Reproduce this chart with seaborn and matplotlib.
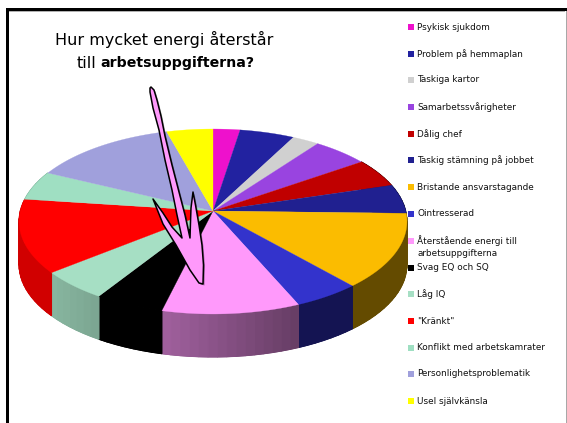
import numpy as np
import matplotlib
matplotlib.use("Agg")
import matplotlib.pyplot as plt
from matplotlib.patches import Polygon, Rectangle
import seaborn as sns

categories = ["Psykisk sjukdom", "Problem på hemmaplan", "Taskiga kartor", "Samarbetssvårigheter",
              "Dålig chef", "Taskig stämning på jobbet", "Bristande ansvarstagande", "Ointresserad",
              "Återstående energi till\narbetsuppgifterna", "Svag EQ och SQ", "Låg IQ", "\"Kränkt\"",
              "Konflikt med arbetskamrater", "Personlighetsproblematik", "Usel självkänsla"]
values = [2.5, 5.1, 2.5, 5.2, 5.0, 5.1, 13.1, 5.0, 10.3, 5.2, 5.2, 12.9, 5.1, 13.5, 4.3]
colors = ["#ee11cc", "#2222a0", "#d0d0d0", "#9944e0", "#c00000", "#202090", "#fbbc00", "#3333cc",
          "#ff99fb", "#000000", "#a6dfc4", "#ff0000", "#9fdfc2", "#a0a0dc", "#ffff00"]

title_line = "Hur mycket energi återstår"
title_plain = "till"
title_bold = "arbetsuppgifterna?"

sns.set_theme(style="white")
plt.rcParams["font.family"] = ["DejaVu Sans"]
palette = sns.color_palette(colors)

fig = plt.figure(figsize=(5.67, 4.23), dpi=100, facecolor="white")
ax = fig.add_axes([0, 0, 1, 1])
ax.set_xlim(0, 567)
ax.set_ylim(423, 0)
ax.axis("off")

# page frame
ax.add_patch(Rectangle((6, 8), 3, 415, color="black", lw=0))
ax.add_patch(Rectangle((6, 8), 561, 3, color="black", lw=0))
ax.add_patch(Rectangle((565.5, 11), 1.5, 412, color="#a8a8a8", lw=0))
ax.add_patch(Rectangle((9, 11), 556, 0.8, color="#b0b0b0", lw=0))

# perspective pie projection
CX, CY, B, A, K, DEPTH = 213.0, 211.0, 192.7, 91.3, 0.1135, 43.0


def project(theta):
    u, v = np.sin(theta), np.cos(theta)
    w = 1 + K * v
    return CX + B * u / w, CY - A * v / w


def shade(x):
    return np.clip(0.82 - (x - 50) * (0.42 / 248), 0.40, 0.82)


edges = np.r_[0, np.cumsum(values)] / np.sum(values) * 2 * np.pi
for i, col in enumerate(palette):
    n = max(4, int((edges[i + 1] - edges[i]) * 24))
    th = np.linspace(edges[i], edges[i + 1], n + 1)
    x, y = project(th)
    if np.cos((edges[i] + edges[i + 1]) / 2) > 0.6:
        continue
    # solid wall first, then shaded strips that overlap it, so no seams show
    base = tuple(np.array(col) * shade(x.mean()))
    ax.fill(np.r_[x, x[::-1]], np.r_[y, y[::-1] + DEPTH], color=base, lw=0.6, zorder=2)
    for j in range(n):
        c = tuple(np.array(col) * shade((x[j] + x[j + 1]) / 2))
        ax.fill([x[j], x[j + 1], x[j + 1], x[j]],
                [y[j], y[j + 1], y[j + 1] + DEPTH, y[j] + DEPTH],
                color=c, lw=0.8, zorder=2)
for i, col in enumerate(palette):
    th = np.linspace(edges[i], edges[i + 1], 60)
    x, y = project(th)
    ax.fill(np.r_[CX, x], np.r_[CY, y], color=col, lw=0.2, zorder=3)

# callout arrow
arrow = [(151, 87), (154, 90), (157, 100), (161, 116), (165, 136), (172, 165), (179, 192), (185, 215),
         (190, 238), (190.5, 222), (191, 208), (193, 192), (195.5, 205), (199, 225), (202, 245),
         (203.5, 265), (203, 284), (199, 283), (190, 270), (176, 245), (163, 224), (153, 199),
         (163, 213), (172, 227), (182, 238), (177, 215), (172, 190), (165, 160), (159, 130),
         (153, 108), (150, 92), (150, 88)]
shadow = [(px + 1.5, py + 1.5) for px, py in arrow]
ax.add_patch(Polygon(shadow, closed=True, fc="#00000055", ec="none", zorder=4))
ax.add_patch(Polygon(arrow, closed=True, fc="#ff99fb", ec="black", lw=1.1, joinstyle="round", zorder=5))

# title
ax.text(164, 39, title_line, ha="center", va="center", fontsize=11.5, color="black", zorder=6)
ax.text(96, 63, title_plain, ha="right", va="center", fontsize=11.5, color="black", zorder=6)
ax.text(100, 63, title_bold, ha="left", va="center", fontsize=10.15, fontweight="bold", color="black", zorder=6)

# legend
swatch_y = [27, 54, 80, 107, 134, 160, 187, 214, 241, 268, 294, 321, 348, 374, 401]
sns.scatterplot(x=[411] * len(swatch_y), y=swatch_y, hue=categories, palette=palette,
                hue_order=categories, marker="s", s=24, linewidth=0, legend=False, ax=ax, zorder=6)
ax.set_xlim(0, 567)
ax.set_ylim(423, 0)
for label, yy in zip(categories, swatch_y):
    if "\n" in label:
        first, second = label.split("\n")
        ax.text(417, yy, first, ha="left", va="center", fontsize=6.4, color="#111111")
        ax.text(417, yy + 13, second, ha="left", va="center", fontsize=6.4, color="#111111")
    else:
        ax.text(417, yy, label, ha="left", va="center", fontsize=6.4, color="#111111")

fig.savefig("out.png", dpi=100, facecolor="white")
